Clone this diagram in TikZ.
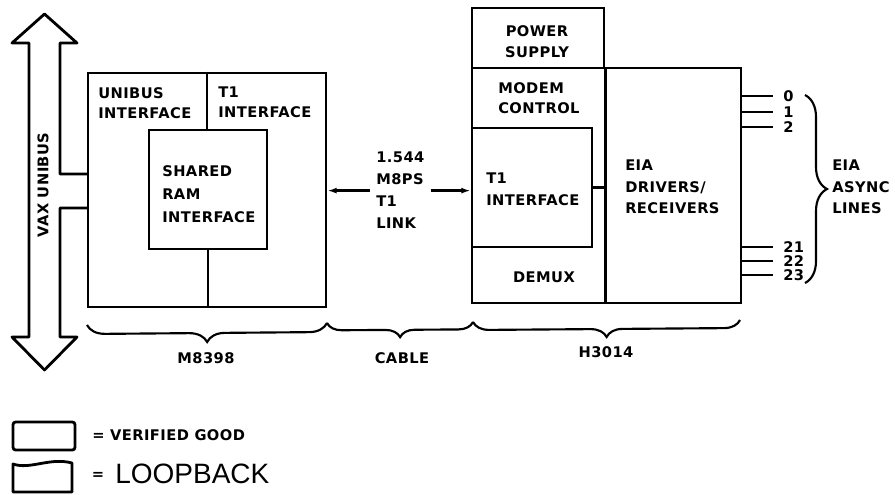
\documentclass[tikz,border=0pt]{standalone}
\usepackage{fontspec}
\newfontfamily\labfont{DejaVu Sans}[LetterSpace=3,BoldFont={DejaVu Sans Bold}]
\newfontfamily\handfont{Liberation Sans}
\usetikzlibrary{fit,decorations.pathreplacing,arrows.meta}
\begin{document}
\begin{tikzpicture}[x=0.75pt,y=-0.75pt,
  box/.style={draw,line width=2.1pt,inner sep=0pt},
  wire/.style={line width=2.1pt},
  lbl/.style={font=\labfont\bfseries\fontsize{11}{16}\selectfont,inner sep=0pt,align=left},
  clbl/.style={lbl,align=center},
  num/.style={lbl,inner xsep=7.5pt,inner ysep=0pt,anchor=west},
  arr/.style={line width=1.7pt,-{Latex[length=7pt,width=4.5pt]}},
  brace/.style={line width=1.6pt,decorate,decoration={brace,amplitude=#1}},
  brace/.default=12pt]
\useasboundingbox (0,0) rectangle (895,494);

% VAX UNIBUS double arrow
\draw[line width=2.1pt,line join=round]
  (88,174) -- (60,174) -- (60,43) -- (77,43) -- (44.5,14) -- (12,43) -- (29,43)
  -- (29,337) -- (12,337) -- (44.5,370) -- (77,337) -- (60,337) -- (60,208) -- (88,208);
\node[lbl,rotate=90] (vax) at (43,185) {VAX UNIBUS};

% M8398 board
\node[box,fit={(88,73) (326,307)}] (m) {};
\node[box,fit={(149,130) (267,249)}] (sram) {};
\draw[wire] (m.north) -- (m.north |- sram.north);
\draw[wire] (sram.south) -- (sram.south |- m.south);
\node[lbl,anchor=north west,font=\labfont\bfseries\fontsize{11}{15}\selectfont] (ui) at (98,87) {UNIBUS\\INTERFACE};
\node[lbl,anchor=north west,font=\labfont\bfseries\fontsize{11}{15}\selectfont] (t1a) at (218,87) {T1\\INTERFACE};
\node[lbl,anchor=north west,font=\labfont\bfseries\fontsize{11}{17.5}\selectfont] (sr) at (162,165) {SHARED\\RAM\\INTERFACE};

% link
\node[lbl,anchor=north west,inner xsep=4.5pt,font=\labfont\bfseries\fontsize{11}{16.5}\selectfont] (link) at (370,152) {1.544\\M8PS\\T1\\LINK};

% H3014
\node[box,fit={(472,8) (604,68)}] (psu) {};
\node[box,fit={(472,68) (741,303)}] (h) {};
\node[box,fit={(472,128) (592,247)}] (t1b) {};
\draw[wire] (psu.south east) -- (psu.south east |- h.south);
\draw[wire] (t1b.east) -- (t1b.east -| psu.east);
\node[clbl,anchor=north] (pl) at (537,25) {POWER\\SUPPLY};
\node[lbl,anchor=north west,font=\labfont\bfseries\fontsize{11}{15}\selectfont] (mc) at (498,82) {MODEM\\CONTROL};
\node[lbl,anchor=north west] (t1l) at (486,173) {T1\\INTERFACE};
\node[lbl,anchor=north] (dm) at (544,272) {DEMUX};
\node[lbl,anchor=north west] (eia) at (625,160) {EIA\\DRIVERS/\\RECEIVERS};

\draw[arr] (link.west) -- (link.west -| m.east);
\draw[arr] (link.east) -- (link.east -| h.west);

% async lines
\node[num] (n0) at (773,96) {0};
\node[num] (n1) at (773,112) {1};
\node[num] (n2) at (773,127) {2};
\node[num] (n21) at (773,247) {21};
\node[num] (n22) at (773,261) {22};
\node[num] (n23) at (773,275) {23};
\foreach \n in {n0,n1,n2,n21,n22,n23}
  \draw[wire] (\n.west -| h.east) -- (\n.west);
\coordinate (rbt) at (805,95);
\coordinate (rbb) at (805,283);
\draw[brace=16.5pt] (rbt) -- (rbb);
\node[lbl,anchor=north west] (async) at (832,160) {EIA\\ASYNC\\LINES};

% bottom braces
\coordinate (b0) at (87,325);
\coordinate (b1) at (327,323);
\coordinate (b2) at (473,322);
\coordinate (b3) at (740,320);
\draw[brace=13.5pt] (b1) -- (b0);
\draw[brace=11pt] (b2) -- (b1);
\draw[brace=12pt] (b3) -- (b2);
\node[lbl] (mlab) at (206,358) {M8398};
\node[lbl] (clab) at (402,358) {CABLE};
\node[lbl] (hlab) at (606,352) {H3014};

% legend
\node[draw,line width=2.1pt,rounded corners=2pt,fit={(13,422) (75,450)},inner sep=0pt] (lg1) {};
\node[lbl,anchor=west] (vg) at (92,435) {= VERIFIED GOOD};
\draw[line width=2.1pt,line join=round] (13,492) -- (13,464) .. controls (30,470) and (50,457) .. (72,463) -- (72,492) -- cycle;
\node[lbl] (eq2) at (98,476) {=};
\node[font=\handfont\fontsize{21}{21}\selectfont,inner sep=0pt,anchor=west] (lb) at (115,474) {LOOPBACK};
\end{tikzpicture}
\end{document}
